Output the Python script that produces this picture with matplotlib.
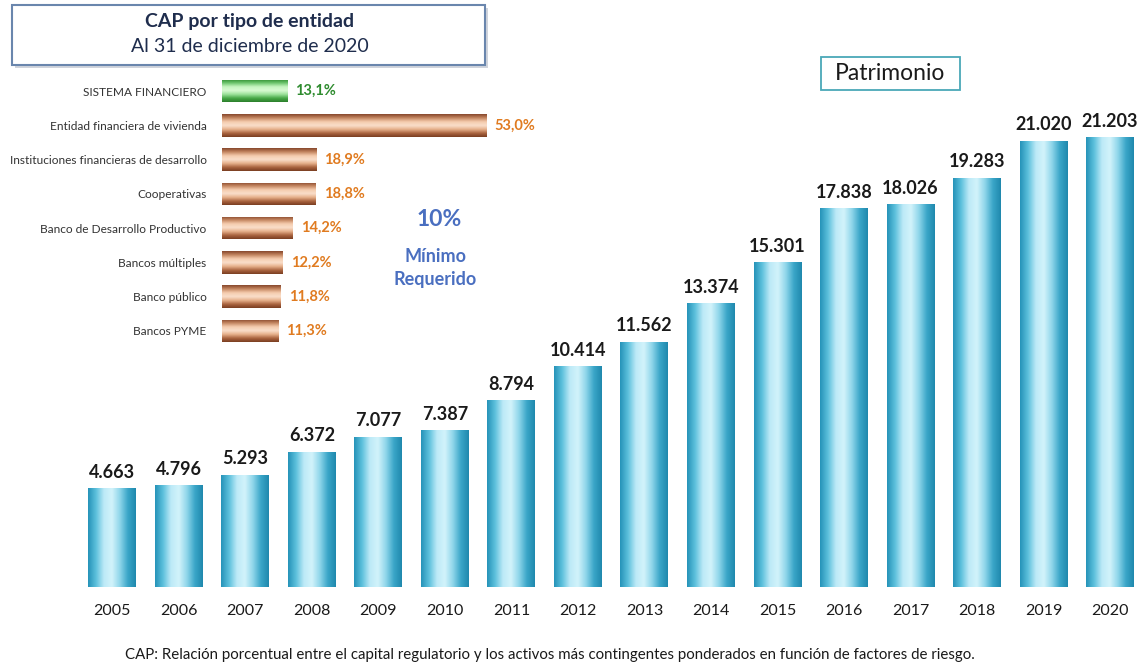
import numpy as np
import matplotlib
matplotlib.use("Agg")
import matplotlib.pyplot as plt
from matplotlib.patches import Rectangle
from matplotlib.colors import LinearSegmentedColormap

plt.rcParams['font.family'] = ['Lato', 'DejaVu Sans']

# Patrimonio por año
years = ['2005', '2006', '2007', '2008', '2009', '2010', '2011', '2012',
         '2013', '2014', '2015', '2016', '2017', '2018', '2019', '2020']
patrimonio = [4663, 4796, 5293, 6372, 7077, 7387, 8794, 10414,
              11562, 13374, 15301, 17838, 18026, 19283, 21020, 21203]
patrimonio_labels = ['4.663', '4.796', '5.293', '6.372', '7.077', '7.387', '8.794', '10.414',
                     '11.562', '13.374', '15.301', '17.838', '18.026', '19.283', '21.020', '21.203']

# CAP por tipo de entidad
entidades = ['SISTEMA FINANCIERO', 'Entidad financiera de vivienda',
             'Instituciones financieras de desarrollo', 'Cooperativas',
             'Banco de Desarrollo Productivo', 'Bancos múltiples',
             'Banco público', 'Bancos PYME']
cap = [13.1, 53.0, 18.9, 18.8, 14.2, 12.2, 11.8, 11.3]
cap_labels = ['13,1%', '53,0%', '18,9%', '18,8%', '14,2%', '12,2%', '11,8%', '11,3%']

W, H = 1138, 669
fig = plt.figure(figsize=(W / 100, H / 100), dpi=100)


def px_axes(x0, y0, x1, y1):
    # pixel box (top-left origin) -> figure axes
    return fig.add_axes([x0 / W, 1 - y1 / H, (x1 - x0) / W, (y1 - y0) / H])


# gradient colormaps
blue_cm = LinearSegmentedColormap.from_list(
    'blue', ['#2592b8', '#5cc0dc', '#bdeaf7', '#d2f3fb', '#8fd6ea', '#3aa6c8', '#1f88ad'])
brown_cm = LinearSegmentedColormap.from_list(
    'brown', ['#84442a', '#c48660', '#f4cbad', '#fadfcb', '#e6b08b', '#aa6440', '#783c20'])
green_cm = LinearSegmentedColormap.from_list(
    'green', ['#2e8a2e', '#6cc46c', '#c6f5c0', '#d8fad2', '#9be29a', '#47a847', '#2a7d2a'])


def fill_gradient(ax, bar, cmap, vertical=True):
    x, y = bar.get_x(), bar.get_y()
    w, h = bar.get_width(), bar.get_height()
    grad = np.linspace(0, 1, 256)
    img = grad[None, :] if vertical else grad[:, None]
    im = ax.imshow(img, cmap=cmap, aspect='auto', extent=(x, x + w, y, y + h),
                   origin='lower', zorder=bar.get_zorder() + 0.1, interpolation='bicubic')
    im.set_clip_path(bar)


# ---- main chart ----
ax = px_axes(79, 40, 1138, 587)
xpos = np.arange(len(years))
bars = ax.bar(xpos, patrimonio, width=0.72, color='#5cc0dc', zorder=2)
for b in bars:
    fill_gradient(ax, b, blue_cm, vertical=True)
ax.set_xlim(-0.5, 15.42)
ax.set_ylim(0, 25770)
for x, v, lab in zip(xpos, patrimonio, patrimonio_labels):
    ax.text(x, v + 350, lab, ha='center', va='bottom', fontsize=13,
            fontweight='bold', color='#1a1a1a')
ax.set_xticks(xpos)
ax.set_xticklabels(years, fontsize=11.5, color='#1a1a1a')
ax.tick_params(axis='x', length=0, pad=12)
ax.set_yticks([])
for s in ax.spines.values():
    s.set_visible(False)
ax.patch.set_alpha(0)

# ---- inset chart ----
ax2 = px_axes(222, 74, 522, 348)
ypos = np.arange(len(entidades))
hbars = ax2.barh(ypos, cap, height=0.66, color='#e9b590', zorder=2)
for i, b in enumerate(hbars):
    fill_gradient(ax2, b, green_cm if i == 0 else brown_cm, vertical=False)
ax2.set_xlim(0, 60.2)
ax2.set_ylim(7.5, -0.5)
for i, (v, lab) in enumerate(zip(cap, cap_labels)):
    ax2.text(v + 1.6, i, lab, ha='left', va='center', fontsize=10.5, fontweight='bold',
             color='#2e8b2e' if i == 0 else '#e07b20')
ax2.set_yticks(ypos)
ax2.set_yticklabels(entidades, fontsize=8.6, color='#333333')
ax2.tick_params(axis='y', length=0, pad=11)
ax2.set_xticks([])
for s in ax2.spines.values():
    s.set_visible(False)
ax2.patch.set_alpha(0)

# ---- title box ----
shadow = Rectangle((15 / W, 1 - 68 / H), 473 / W, 60 / H, transform=fig.transFigure,
                   facecolor='#d0d4dc', edgecolor='none', zorder=0)
box = Rectangle((12 / W, 1 - 65 / H), 473 / W, 60 / H, transform=fig.transFigure,
                facecolor='white', edgecolor='#6a86ad', linewidth=1.5, zorder=1)
fig.patches.extend([shadow, box])
fig.text(250 / W, 1 - 22 / H, 'CAP por tipo de entidad', ha='center', va='center',
         fontsize=14, fontweight='bold', color='#1f2d4d')
fig.text(250 / W, 1 - 47 / H, 'Al 31 de diciembre de 2020', ha='center', va='center',
         fontsize=14, color='#1f2d4d')

# ---- 10% minimum ----
fig.text(439 / W, 1 - 220 / H, '10%', ha='center', va='center', fontsize=16.5,
         fontweight='bold', color='#4a6fc0')
fig.text(435 / W, 1 - 256 / H, 'Mínimo', ha='center', va='center', fontsize=13,
         fontweight='bold', color='#4a6fc0')
fig.text(435 / W, 1 - 280 / H, 'Requerido', ha='center', va='center', fontsize=13,
         fontweight='bold', color='#4a6fc0')

# ---- Patrimonio box ----
pbox = Rectangle((821 / W, 1 - 90 / H), 139 / W, 33 / H, transform=fig.transFigure,
                 facecolor='white', edgecolor='#4aa8b8', linewidth=1.3, zorder=1)
fig.patches.append(pbox)
fig.text(890 / W, 1 - 73 / H, 'Patrimonio', ha='center', va='center', fontsize=16.5,
         color='#1a1a1a')

# ---- footer ----
fig.text(550 / W, 1 - 655 / H,
         'CAP: Relación porcentual entre el capital regulatorio y los activos más contingentes ponderados en función de factores de riesgo.',
         ha='center', va='center', fontsize=10.8, color='#1a1a1a')

fig.savefig('out.png', dpi=100)
